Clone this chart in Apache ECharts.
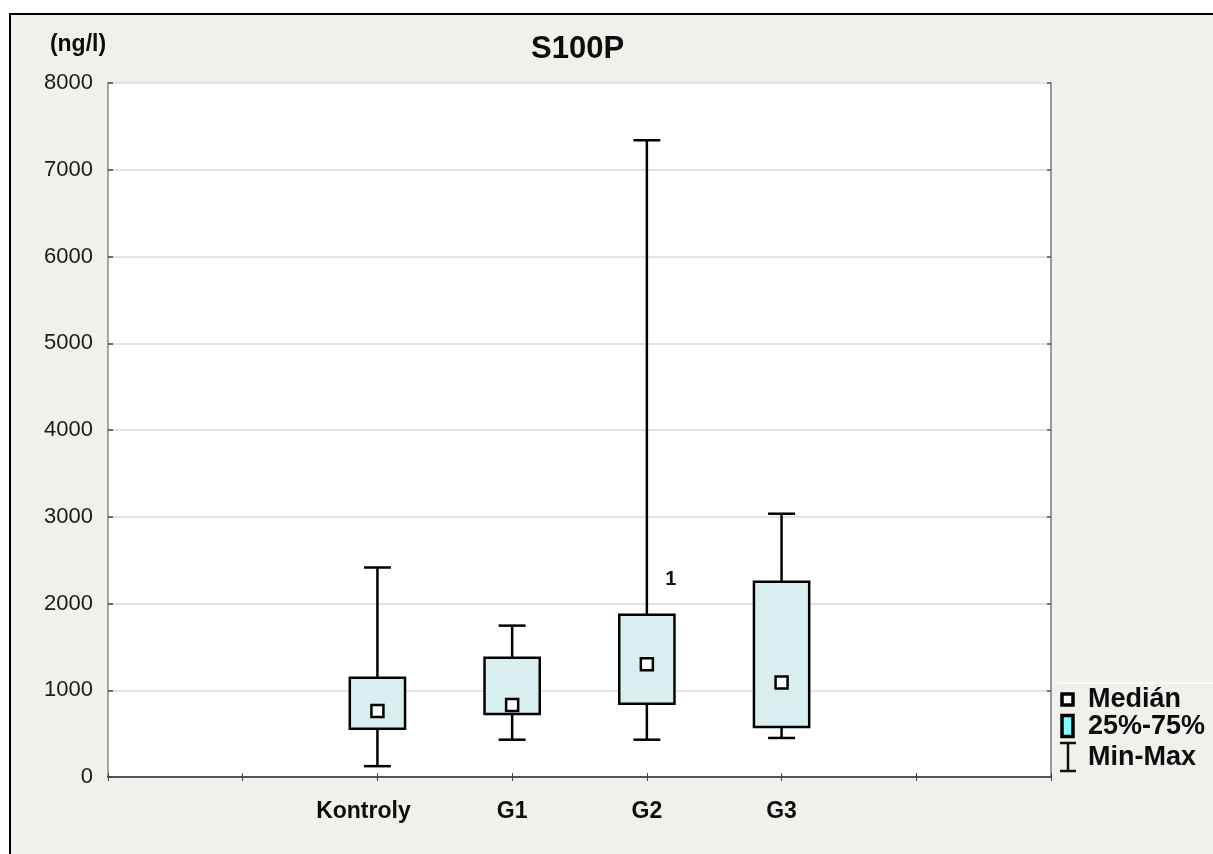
<!DOCTYPE html>
<html>
<head>
<meta charset="utf-8">
<script src="https://cdn.jsdelivr.net/npm/echarts@6/dist/echarts.min.js"></script>
<style>
  html, body { margin: 0; padding: 0; background: #ffffff; }
  #frame { position: absolute; left: 9px; top: 13px; width: 1300px; height: 900px;
           background: #f1f0ec; border-left: 2.5px solid #000; border-top: 2.5px solid #000; }
  #chart { position: absolute; left: 0; top: 0; width: 1213px; height: 854px; }
</style>
</head>
<body>
<div id="frame"></div>
<div id="chart"></div>
<script>
// ---- data ----
const axisSlots = ['', ' ', 'Kontroly', 'G1', 'G2', 'G3', '  ', '   '];
const categories = ['Kontroly', 'G1', 'G2', 'G3'];
const minVals    = [125, 430, 430, 450];
const q1Vals     = [555, 725, 845, 575];
const medianVals = [760, 830, 1300, 1090];
const q3Vals     = [1145, 1375, 1870, 2250];
const maxVals    = [2415, 1745, 7340, 3035];
const outlierCategory = ['G2'];
const outlierValue = [2290];
const outlierText = ['1'];
const yTicks = [0, 1000, 2000, 3000, 4000, 5000, 6000, 7000, 8000];
const titleText = 'S100P';
const unitText = '(ng/l)';
const legendTexts = ['Medián', '25%-75%', 'Min-Max'];

const FONT = '"Liberation Sans", Arial, sans-serif';
const boxData = categories.map((c, i) => [c, minVals[i], q1Vals[i], medianVals[i], q3Vals[i], maxVals[i]]);

const chart = echarts.init(document.getElementById('chart'), null, { renderer: 'canvas' });

function renderBox(params, api) {
  const x = api.value(0);
  const pMin = api.coord([x, api.value(1)]);
  const pQ1 = api.coord([x, api.value(2)]);
  const pMed = api.coord([x, api.value(3)]);
  const pQ3 = api.coord([x, api.value(4)]);
  const pMax = api.coord([x, api.value(5)]);
  const band = Math.abs(api.coord([1, 0])[0] - api.coord([0, 0])[0]);
  const cx = pMed[0];
  const bw = band * 0.41;
  const cw = band * 0.2;
  const lineStyle = { stroke: '#000', lineWidth: 2.5 };
  return {
    type: 'group',
    children: [
      { type: 'line', shape: { x1: cx, y1: pMax[1], x2: cx, y2: pQ3[1] }, style: lineStyle },
      { type: 'line', shape: { x1: cx, y1: pQ1[1], x2: cx, y2: pMin[1] }, style: lineStyle },
      { type: 'line', shape: { x1: cx - cw / 2, y1: pMax[1], x2: cx + cw / 2, y2: pMax[1] }, style: lineStyle },
      { type: 'line', shape: { x1: cx - cw / 2, y1: pMin[1], x2: cx + cw / 2, y2: pMin[1] }, style: lineStyle },
      { type: 'rect', shape: { x: cx - bw / 2, y: pQ3[1], width: bw, height: pQ1[1] - pQ3[1] },
        style: { fill: '#d9efef', stroke: '#000', lineWidth: 2.5 } },
      { type: 'rect', shape: { x: cx - 6, y: pMed[1] - 6, width: 12, height: 12 },
        style: { fill: '#fff', stroke: '#000', lineWidth: 2.5 } }
    ]
  };
}

const legendX = 1060;
const option = {
  backgroundColor: 'transparent',
  animation: false,
  title: {
    text: titleText, left: 531, top: 34, padding: 0,
    textStyle: { fontFamily: FONT, fontWeight: 'bold', fontSize: 31, color: '#0d0d0d' }
  },
  grid: { left: 108, right: 162, top: 83, bottom: 77, show: true, backgroundColor: '#fff', borderWidth: 0 },
  xAxis: [
    {
      type: 'category', data: axisSlots, boundaryGap: false, position: 'bottom',
      axisLine: { show: true, lineStyle: { color: '#555', width: 2 } },
      axisTick: { show: true, inside: true, length: 4, interval: 0, lineStyle: { color: '#444' } },
      axisLabel: {
        show: true, margin: 23, interval: 0,
        fontFamily: FONT, fontWeight: 'bold', fontSize: 23, color: '#0d0d0d',
        formatter: v => v === 'Kontroly' ? '{k|' + v + '}' : v.trim(),
        rich: { k: { fontFamily: FONT, fontWeight: 'bold', fontSize: 23, color: '#0d0d0d', padding: [0, 28, 0, 0] } }
      },
      splitLine: { show: false }
    },
    {
      type: 'category', data: axisSlots, boundaryGap: false, position: 'top',
      axisLine: { show: true, lineStyle: { color: '#555', width: 2 } },
      axisTick: { show: true, inside: true, length: 4, interval: 0, lineStyle: { color: '#444' } },
      axisLabel: { show: false },
      splitLine: { show: false }
    }
  ],
  yAxis: [
    {
      type: 'value', min: yTicks[0], max: yTicks[yTicks.length - 1], interval: yTicks[1] - yTicks[0],
      name: unitText, nameLocation: 'end', nameGap: 27,
      nameTextStyle: { fontFamily: FONT, fontWeight: 'bold', fontSize: 23, color: '#0d0d0d', padding: [0, 60, 0, 0] },
      axisLine: { show: true, lineStyle: { color: '#888', width: 1.5 } },
      axisTick: { show: true, inside: true, length: 5, lineStyle: { color: '#444', width: 1.5 } },
      axisLabel: { margin: 15, fontFamily: FONT, fontSize: 22, color: '#1a1a1a', formatter: v => String(v) },
      splitLine: { show: true, lineStyle: { color: '#e3e3e3', width: 2 } }
    },
    {
      type: 'value', position: 'right', min: yTicks[0], max: yTicks[yTicks.length - 1], interval: yTicks[1] - yTicks[0],
      axisLine: { show: true, lineStyle: { color: '#999', width: 2 } },
      axisTick: { show: true, inside: true, length: 4, lineStyle: { color: '#555', width: 1.5 } },
      axisLabel: { show: false },
      splitLine: { show: false }
    }
  ],
  series: [
    {
      type: 'custom', name: 'S100P', xAxisIndex: 0, yAxisIndex: 0,
      renderItem: renderBox,
      encode: { x: 0, y: [1, 2, 3, 4, 5] },
      data: boxData, z: 5
    },
    {
      type: 'scatter', xAxisIndex: 0, yAxisIndex: 0, symbolSize: 0,
      itemStyle: { opacity: 1 },
      data: outlierCategory.map((c, i) => ({ value: [c, outlierValue[i]], name: outlierText[i] })),
      label: { show: true, position: 'inside', offset: [24, 1], formatter: p => p.name,
               fontFamily: FONT, fontWeight: 'bold', fontSize: 20, color: '#111', opacity: 1 },
      z: 6
    }
  ],
  graphic: [
    { type: 'line', shape: { x1: 1057, y1: 683, x2: 1213, y2: 683 }, style: { stroke: '#ffffff', lineWidth: 1.5 } },
    { type: 'rect', shape: { x: legendX + 2, y: 694, width: 11, height: 11 }, style: { fill: '#fff', stroke: '#000', lineWidth: 3.5 } },
    { type: 'rect', shape: { x: legendX + 2, y: 715.5, width: 11, height: 21 }, style: { fill: '#80ffff', stroke: '#000', lineWidth: 3.5 } },
    { type: 'line', shape: { x1: legendX + 8, y1: 743, x2: legendX + 8, y2: 771 }, style: { stroke: '#111', lineWidth: 2.5 } },
    { type: 'line', shape: { x1: legendX, y1: 743, x2: legendX + 16, y2: 743 }, style: { stroke: '#111', lineWidth: 2.5 } },
    { type: 'line', shape: { x1: legendX, y1: 771, x2: legendX + 16, y2: 771 }, style: { stroke: '#111', lineWidth: 2.5 } },
    { type: 'text', left: 1088, top: 686, style: { text: legendTexts[0], font: 'bold 27px ' + FONT, fill: '#0d0d0d' } },
    { type: 'text', left: 1088, top: 713, style: { text: legendTexts[1], font: 'bold 27px ' + FONT, fill: '#0d0d0d' } },
    { type: 'text', left: 1088, top: 744, style: { text: legendTexts[2], font: 'bold 27px ' + FONT, fill: '#0d0d0d' } }
  ]
};
chart.setOption(option);
</script>
</body>
</html>
